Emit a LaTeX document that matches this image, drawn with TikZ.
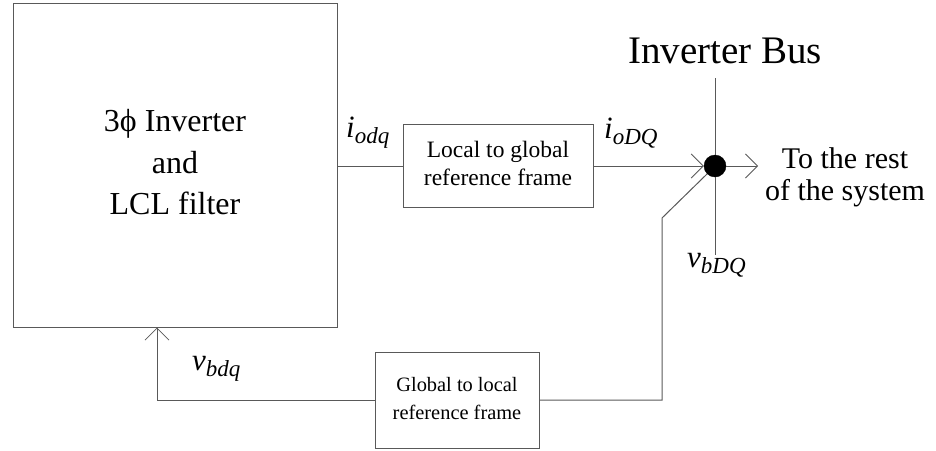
\documentclass[tikz,border=0pt]{standalone}
\usepackage{fontspec}
\setmainfont{Liberation Serif}
\usetikzlibrary{arrows.meta}
\newcommand{\sublbl}[2]{\fontsize{31}{33}\selectfont\textit{#1}\raisebox{-6pt}{\fontsize{23}{25}\selectfont\textit{#2}}}
\begin{document}
\begin{tikzpicture}[x=1pt,y=-1pt,
  line/.style={draw=black!65, line width=1pt},
  tip/.style={-{Straight Barb[length=12pt,width=24pt,line width=0.8pt]}},
  blockbox/.style={line, rectangle, inner sep=0pt, align=center},
  txt/.style={inner sep=0pt, anchor=base west}]
\useasboundingbox (0,0) rectangle (936,450);
% blocks
\node[blockbox, minimum width=324pt, minimum height=324pt] (inv) at (175,165)
  {\fontsize{32}{41.5}\selectfont\begin{tabular}{@{}c@{}}3ϕ Inverter\\and\\LCL filter\end{tabular}};
\node[blockbox, minimum width=190pt, minimum height=83pt] (loc) at (498,166)
  {\fontsize{23.5}{28}\selectfont\begin{tabular}{@{}c@{}}Local to global\\reference frame\end{tabular}};
\node[blockbox, minimum width=164pt, minimum height=96pt] (glob) at (457,400)
  {\fontsize{20.4}{28}\selectfont\begin{tabular}{@{}c@{}}Global to local\\reference frame\end{tabular}};
% bus
\node[circle, fill=black, draw=black, inner sep=0pt, minimum size=22pt] (dot) at (715,166) {};
\coordinate (bustop) at (715,78);
\coordinate (busbot) at (715,255);
\coordinate (out) at (758,166);
\coordinate (bend) at (662,218);
\coordinate (bendlow) at (662,400);
\coordinate (fb) at (157,400);
\draw[line] (bustop) -- (dot.north);
\draw[line] (dot.south) -- (busbot);
% connectors
\draw[line] (inv.east |- loc.west) -- (loc.west);
\draw[line, tip] (loc.east) -- (dot.west);
\draw[line, tip] (dot.east) -- (out);
\draw[line] (dot.225) -- (bend) -- (bendlow) -- (glob.east);
\draw[line, tip] (glob.west) -- (fb) -- (fb |- inv.south);
% labels
\node[inner sep=0pt, anchor=base] (busname) at (725,63) {\fontsize{39}{41}\selectfont Inverter Bus};
\node[inner sep=0pt, anchor=base] (rest) at (845,168)
  {\fontsize{30}{32}\selectfont\begin{tabular}[t]{@{}c@{}}To the rest\\of the system\end{tabular}};
\node[txt] (iodq) at (346,137) {\sublbl{i}{odq}};
\node[txt] (ioDQ) at (604,138) {\sublbl{i}{oDQ}};
\node[txt] (vbDQ) at (687,267) {\sublbl{v}{bDQ}};
\node[txt] (vbdq) at (192,370) {\sublbl{v}{bdq}};
\end{tikzpicture}
\end{document}
